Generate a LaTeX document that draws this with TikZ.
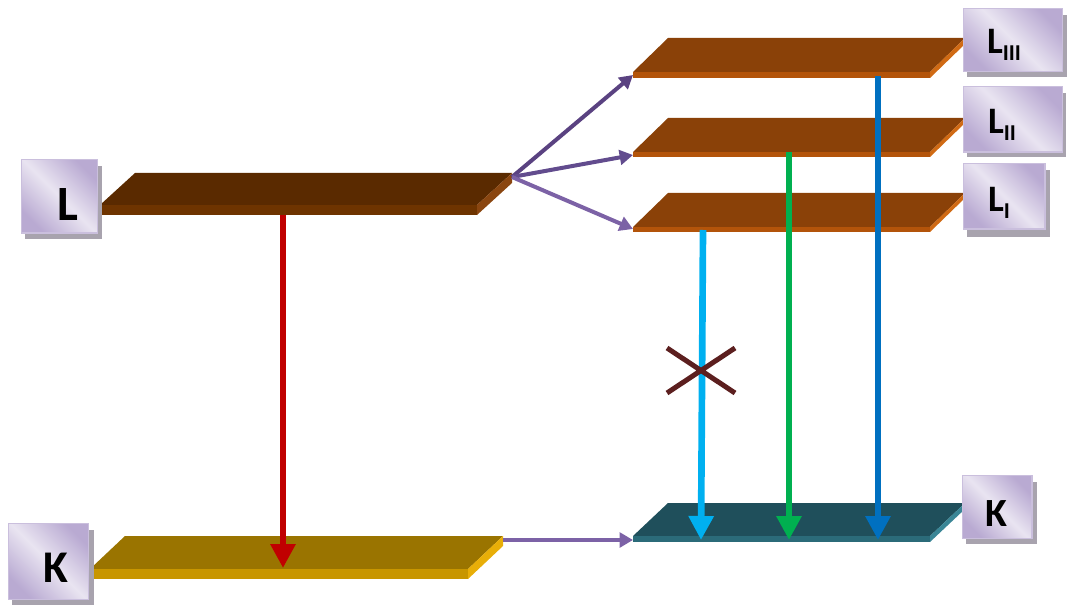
\documentclass[tikz,border=0pt]{standalone}
\usepackage{fontspec}
\setmainfont{Carlito}
\usetikzlibrary{arrows.meta}

\definecolor{lTop}{HTML}{5A2A00}
\definecolor{lFront}{HTML}{6E3400}
\definecolor{lSide}{HTML}{8A4610}
\definecolor{subTop}{HTML}{8A4108}
\definecolor{subFront}{HTML}{B3540A}
\definecolor{subSide}{HTML}{D06A14}
\definecolor{kTop}{HTML}{9A7400}
\definecolor{kFront}{HTML}{C89600}
\definecolor{kSide}{HTML}{E8AE08}
\definecolor{kkTop}{HTML}{1F4F5B}
\definecolor{kkFront}{HTML}{2B6B79}
\definecolor{kkSide}{HTML}{3A8696}
\definecolor{boxEdge}{HTML}{CABFDD}
\definecolor{boxDark}{HTML}{B9AAD2}
\definecolor{boxLight}{HTML}{E9E4F1}
\definecolor{boxShadow}{HTML}{A8A3AE}
\definecolor{purpA}{HTML}{5A4281}
\definecolor{purpB}{HTML}{624C8E}
\definecolor{purpC}{HTML}{7C62A6}
\definecolor{redArr}{HTML}{C00000}
\definecolor{cyanArr}{HTML}{00B0F0}
\definecolor{greenArr}{HTML}{00B050}
\definecolor{blueArr}{HTML}{0070C0}
\definecolor{crossCol}{HTML}{5C1F1F}

% energy level plate: #1 left x, #2 right x, #3 top y, #4 front top y,
% #5 front bottom y, #6 top colour, #7 front colour, #8 side colour
\newcommand\levelplate[8]{%
  \fill[#6] (#1,#4) -- (#1+35,#3) -- (#2+35,#3) -- (#2,#4) -- cycle;
  \fill[#7] (#1,#4) rectangle (#2,#5);
  \fill[#8] (#2,#4) -- (#2+35,#3) -- (#2+35,#3+#5-#4) -- (#2,#5) -- cycle;
}

\tikzset{
  lvlbox/.style={draw=boxEdge, line width=1pt, rectangle, inner sep=0pt,
    left color=boxDark, right color=boxDark,
    middle color=boxLight, shading angle=-45},
  boxshadow/.style={fill=boxShadow},
  lbl/.style={font=\bfseries, text=black, inner sep=0pt},
  fanarrow/.style={line width=3pt, -{Triangle[width=11pt,length=10pt]}},
  drop/.style={line width=5pt, -{Triangle[width=18pt,length=18pt]}},
}

\begin{document}
\begin{tikzpicture}[x=0.75pt,y=-0.75pt]
\useasboundingbox (0,0) rectangle (1067,606);

% plates
\levelplate{100}{477}{173}{205}{215}{lTop}{lFront}{lSide}
\levelplate{633}{930}{38}{72}{78}{subTop}{subFront}{subSide}
\levelplate{633}{930}{118}{152}{157}{subTop}{subFront}{subSide}
\levelplate{633}{930}{193}{227}{232}{subTop}{subFront}{subSide}
\levelplate{90}{468}{536}{569}{579}{kTop}{kFront}{kSide}
\levelplate{633}{930}{503}{536}{542}{kkTop}{kkFront}{kkSide}

% arrow end points
\coordinate (fan) at (512,177);
\coordinate (l3in) at (633,75);
\coordinate (l2in) at (633,155);
\coordinate (l1in) at (633,229);
\coordinate (kout) at (503,540);
\coordinate (kin) at (633,540);
\coordinate (redS) at (283,215);
\coordinate (redE) at (283,568);
\coordinate (cyS) at (703,230);
\coordinate (cyE) at (701,540);
\coordinate (grS) at (789,152);
\coordinate (grE) at (789,540);
\coordinate (blS) at (878,76);
\coordinate (blE) at (878,540);
\coordinate (xa) at (667,348);
\coordinate (xb) at (735,393);
\coordinate (xc) at (667,393);
\coordinate (xd) at (735,348);

% connectors
\draw[fanarrow, purpA] (fan) -- (l3in);
\draw[fanarrow, purpB] (fan) -- (l2in);
\draw[fanarrow, purpC] (fan) -- (l1in);
\draw[fanarrow, purpC] (kout) -- (kin);
\draw[drop, redArr] (redS) -- (redE);
\draw[drop, cyanArr] (cyS) -- (cyE);
\draw[drop, greenArr] (grS) -- (grE);
\draw[drop, blueArr] (blS) -- (blE);

% forbidden transition
\draw[crossCol, line width=3.75pt] (xa) -- (xb) (xc) -- (xd);

% label boxes with shadows
\fill[boxshadow] (25,166) rectangle (102,239);
\node[lvlbox, minimum width=57pt, minimum height=55pt, anchor=north west] (boxL) at (21,159) {};
\node[lbl, font=\fontsize{37}{37}\selectfont\bfseries] (txtL) at (68,205) {L};

\fill[boxshadow] (12,530) rectangle (94,605);
\node[lvlbox, minimum width=60pt, minimum height=57pt, anchor=north west] (boxK) at (8,523) {};
\node[lbl, font=\fontsize{34}{34}\selectfont\bfseries] (txtK) at (56,568) {K};

\fill[boxshadow] (967,15) rectangle (1067,77);
\node[lvlbox, minimum width=74pt, minimum height=47pt, anchor=north west] (boxL3) at (963,8) {};
\node[lbl, font=\fontsize{28}{28}\selectfont\bfseries] (txtL3) at (1004,45)
  {L\raisebox{-0.2em}{\fontsize{17}{17}\selectfont III}};

\fill[boxshadow] (967,93) rectangle (1066,157);
\node[lvlbox, minimum width=74pt, minimum height=49pt, anchor=north west] (boxL2) at (963,86) {};
\node[lbl, font=\fontsize{28}{28}\selectfont\bfseries] (txtL2) at (1002,125)
  {L\raisebox{-0.2em}{\fontsize{17}{17}\selectfont II}};

\fill[boxshadow] (967,170) rectangle (1050,237);
\node[lvlbox, minimum width=61pt, minimum height=49pt, anchor=north west] (boxL1) at (963,163) {};
\node[lbl, font=\fontsize{28}{28}\selectfont\bfseries] (txtL1) at (999,203)
  {L\raisebox{-0.2em}{\fontsize{17}{17}\selectfont I}};

\fill[boxshadow] (966,482) rectangle (1037,544);
\node[lvlbox, minimum width=52pt, minimum height=47pt, anchor=north west] (boxKK) at (962,475) {};
\node[lbl, font=\fontsize{30}{30}\selectfont\bfseries] (txtKK) at (996,514) {K};

\end{tikzpicture}
\end{document}
